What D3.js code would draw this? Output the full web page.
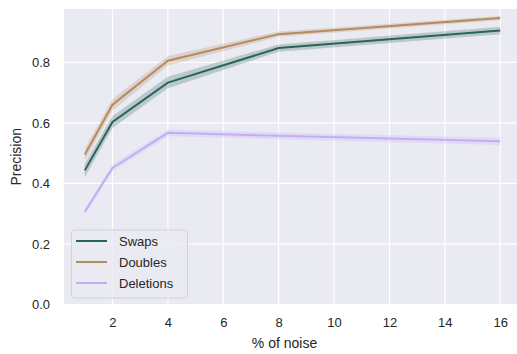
<!DOCTYPE html>
<html>
<head>
<meta charset="utf-8">
<script src="https://cdn.jsdelivr.net/npm/d3@7"></script>
<style>
  body { margin: 0; background: #fff; }
  text { font-family: "Liberation Sans", Arial, sans-serif; fill: #262626; }
</style>
</head>
<body>
<div id="chart"></div>
<script>
// x positions (% of noise)
const noise = [1, 2, 4, 8, 16];

// mean precision per series
const swaps = [0.443, 0.603, 0.733, 0.847, 0.905];
const doubles = [0.495, 0.660, 0.805, 0.893, 0.946];
const deletions = [0.306, 0.451, 0.567, 0.557, 0.539];

// half width of the confidence band
const swapsCi = [0.022, 0.020, 0.019, 0.012, 0.012];
const doublesCi = [0.020, 0.019, 0.016, 0.009, 0.007];
const deletionsCi = [0.009, 0.012, 0.011, 0.011, 0.012];

const xTicks = [2, 4, 6, 8, 10, 12, 14, 16];
const yTicks = [0.0, 0.2, 0.4, 0.6, 0.8];

const seriesNames = ['Swaps', 'Doubles', 'Deletions'];
const seriesColors = ['#2b6458', '#b58b5e', '#c3aef5'];

const series = [
  { name: seriesNames[0], mean: swaps, ci: swapsCi, color: seriesColors[0] },
  { name: seriesNames[1], mean: doubles, ci: doublesCi, color: seriesColors[1] },
  { name: seriesNames[2], mean: deletions, ci: deletionsCi, color: seriesColors[2] }
];

const width = 517, height = 354;
const plot = { left: 64, top: 9, right: 521, bottom: 304.5 };

const svg = d3.select('#chart').append('svg')
  .attr('width', width)
  .attr('height', height);

const x = d3.scaleLinear().domain([0.25, 16.75]).range([plot.left, plot.right]);
const y = d3.scaleLinear().domain([0, 0.976]).range([plot.bottom, plot.top]);

// axes background
svg.append('rect')
  .attr('x', plot.left).attr('y', plot.top)
  .attr('width', plot.right - plot.left)
  .attr('height', plot.bottom - plot.top)
  .attr('fill', '#eaeaf2');

// grid lines
svg.append('g').selectAll('line').data(xTicks).join('line')
  .attr('x1', d => x(d)).attr('x2', d => x(d))
  .attr('y1', plot.top).attr('y2', plot.bottom)
  .attr('stroke', '#fff').attr('stroke-width', 1.2);

svg.append('g').selectAll('line').data(yTicks).join('line')
  .attr('x1', plot.left).attr('x2', plot.right)
  .attr('y1', d => y(d)).attr('y2', d => y(d))
  .attr('stroke', '#fff').attr('stroke-width', 1.2);

// tick labels via axes, without lines
const xAxis = svg.append('g')
  .attr('transform', `translate(0,${plot.bottom})`)
  .call(d3.axisBottom(x).tickValues(xTicks).tickSize(0).tickPadding(13));
const yAxis = svg.append('g')
  .attr('transform', `translate(${plot.left},0)`)
  .call(d3.axisLeft(y).tickValues(yTicks).tickFormat(d3.format('.1f')).tickSize(0).tickPadding(14));

[xAxis, yAxis].forEach(ax => {
  ax.select('.domain').remove();
  ax.selectAll('text')
    .attr('font-size', 13)
    .attr('font-family', '"Liberation Sans", Arial, sans-serif')
    .attr('fill', '#262626');
});

// bands and lines
const area = d3.area()
  .x((d, i) => x(noise[i]))
  .y0(d => y(d[0] - d[1]))
  .y1(d => y(d[0] + d[1]));

const line = d3.line()
  .x((d, i) => x(noise[i]))
  .y(d => y(d));

const marks = svg.append('g');
series.forEach(s => {
  marks.append('path')
    .datum(s.mean.map((m, i) => [m, s.ci[i]]))
    .attr('d', area)
    .attr('fill', s.color)
    .attr('fill-opacity', 0.25);
});
series.forEach(s => {
  marks.append('path')
    .datum(s.mean)
    .attr('d', line)
    .attr('fill', 'none')
    .attr('stroke', s.color)
    .attr('stroke-width', 2);
});

// axis titles
svg.append('text')
  .attr('x', (plot.left + 517) / 2 - 6)
  .attr('y', 348)
  .attr('text-anchor', 'middle')
  .attr('font-size', 14)
  .text('% of noise');

svg.append('text')
  .attr('transform', `translate(21,${(plot.top + plot.bottom) / 2}) rotate(-90)`)
  .attr('text-anchor', 'middle')
  .attr('font-size', 14)
  .text('Precision');

// legend
const legend = svg.append('g');
legend.append('rect')
  .attr('x', 71.5).attr('y', 230)
  .attr('width', 116).attr('height', 68)
  .attr('rx', 3)
  .attr('fill', '#eaeaf2').attr('fill-opacity', 0.8)
  .attr('stroke', '#d2d2d8').attr('stroke-width', 1);

const items = legend.selectAll('g.item').data(series).join('g')
  .attr('class', 'item')
  .attr('transform', (d, i) => `translate(0,${241 + i * 21})`);
items.append('line')
  .attr('x1', 76).attr('x2', 107)
  .attr('stroke', d => d.color)
  .attr('stroke-width', 2);
items.append('text')
  .attr('x', 119)
  .attr('y', 0)
  .attr('dy', '0.35em')
  .attr('font-size', 13)
  .text(d => d.name);
</script>
</body>
</html>
